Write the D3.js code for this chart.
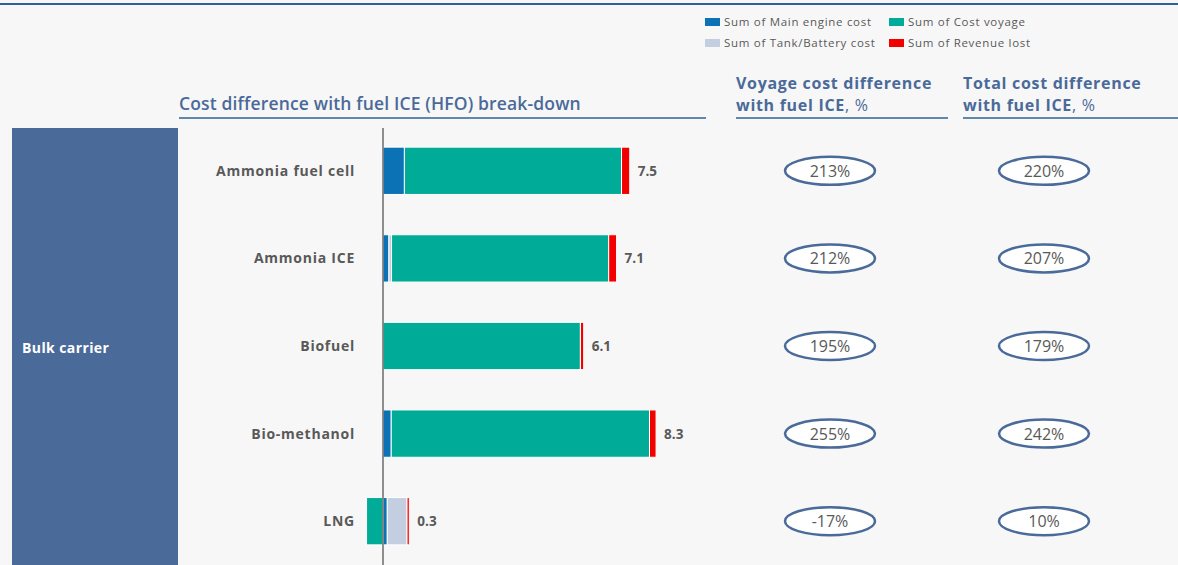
<!DOCTYPE html>
<html><head><meta charset="utf-8">
<script src="https://cdn.jsdelivr.net/npm/d3@7"></script>
<style>
html,body{margin:0;padding:0;background:#f7f7f7;}
svg{display:block;}
text{font-family:"Open Sans","Lato",sans-serif;}
</style></head>
<body>
<svg id="c" width="1178" height="565"></svg>
<script>
const categories = ["Ammonia fuel cell","Ammonia ICE","Biofuel","Bio-methanol","LNG"];
const mainEngine = [0.65, 0.18, 0, 0.25, 0.13];
const tankBattery = [0, 0.08, 0, 0, 0.6];
const costVoyage = [6.6, 6.6, 6.0, 7.85, -0.5];
const revenueLost = [0.25, 0.24, 0.1, 0.2, 0.07];
const totals = ["7.5","7.1","6.1","8.3","0.3"];
const voyagePct = ["213%","212%","195%","255%","-17%"];
const totalPct = ["220%","207%","179%","242%","10%"];
const seriesNames = ["Sum of Main engine cost","Sum of Tank/Battery cost","Sum of Cost voyage","Sum of Revenue lost"];
const seriesColors = ["#0a72b5","#c3cfe0","#00ac97","#f20000"];
const groupLabel = "Bulk carrier";

const svg = d3.select("#c");
const W = 1178, H = 565;
svg.append("rect").attr("width",W).attr("height",H).attr("fill","#f7f7f7");
svg.append("line").attr("x1",0).attr("x2",W).attr("y1",4).attr("y2",4).attr("stroke","#2f6294").attr("stroke-width",2);

const x = d3.scaleLinear().domain([0,10]).range([383, 712]);
const y = d3.scaleBand().domain(categories).range([127,565]).paddingInner(0.46).paddingOuter(0.23);

// group box
svg.append("rect").attr("x",12).attr("y",128).attr("width",166).attr("height",H-128).attr("fill","#4a6a99");
svg.append("text").attr("x",22).attr("y",353).attr("fill","#fff").attr("font-size",14).attr("letter-spacing",0.4).attr("font-weight",700).text(groupLabel);

// headers
const hdrColor = "#4a6a99", lineColor = "#2f6294";
svg.append("text").attr("x",179).attr("y",110).attr("fill",hdrColor).attr("font-size",17.5).attr("font-weight",600).attr("letter-spacing",0.15).text("Cost difference with fuel ICE (HFO) break-down");
svg.append("line").attr("x1",179).attr("x2",706).attr("y1",118).attr("y2",118).attr("stroke",lineColor).attr("stroke-width",1.5);
const hdrs = [{x:736,x2:948,l1:"Voyage cost difference"},{x:963,x2:1178,l1:"Total cost difference"}];
hdrs.forEach(h=>{
  svg.append("text").attr("x",h.x).attr("y",89).attr("fill",hdrColor).attr("font-size",16).attr("letter-spacing",0.7).attr("font-weight",700).text(h.l1);
  const t = svg.append("text").attr("x",h.x).attr("y",111).attr("fill",hdrColor).attr("font-size",16).attr("letter-spacing",0.7).attr("font-weight",700);
  t.append("tspan").text("with fuel ICE");
  t.append("tspan").attr("font-weight",400).text(", %");
  svg.append("line").attr("x1",h.x).attr("x2",h.x2).attr("y1",118).attr("y2",118).attr("stroke",lineColor).attr("stroke-width",1.5);
});

// legend
const leg = [{i:0,x:705,y:22},{i:2,x:889,y:22},{i:1,x:705,y:43},{i:3,x:889,y:43}];
leg.forEach(l=>{
  svg.append("rect").attr("x",l.x).attr("y",l.y-4).attr("width",15).attr("height",8).attr("fill",seriesColors[l.i]);
  svg.append("text").attr("x",l.x+19).attr("y",l.y+4).attr("font-size",11.5).attr("letter-spacing",0.7).attr("fill","#595959").text(seriesNames[l.i]);
});

// stacked bars
const seriesData = [mainEngine, tankBattery, costVoyage, revenueLost];
categories.forEach((c,ci)=>{
  let pos = 0, neg = 0;
  seriesData.forEach((arr,si)=>{
    const v = arr[ci];
    if (!v) return;
    let a,b;
    if (v>0){a=pos;b=pos+v;pos=b;} else {b=neg;a=neg+v;neg=a;}
    svg.append("rect").attr("x",x(a)).attr("width",x(b)-x(a)).attr("y",y(c)).attr("height",y.bandwidth())
      .attr("fill",seriesColors[si]).attr("stroke","#ffffff").attr("stroke-width",1);
  });
  const cy = y(c)+y.bandwidth()/2;
  svg.append("text").attr("x",x(pos)+8).attr("y",cy+5).attr("font-size",13.5).attr("font-weight",700).attr("fill","#595959").text(totals[ci]);
  svg.append("text").attr("x",355).attr("y",cy+5).attr("text-anchor","end").attr("font-size",14).attr("letter-spacing",0.75).attr("font-weight",700).attr("fill","#595959").text(c);
  // ovals
  [[830,voyagePct],[1044,totalPct]].forEach(([cx,arr])=>{
    svg.append("ellipse").attr("cx",cx).attr("cy",cy).attr("rx",45).attr("ry",14)
      .attr("fill","#ffffff").attr("stroke","#4a6a99").attr("stroke-width",2.5);
    svg.append("text").attr("x",cx).attr("y",cy+6).attr("text-anchor","middle").attr("font-size",16).attr("fill","#595959").text(arr[ci]);
  });
});

// axis line
svg.append("line").attr("x1",x(0)).attr("x2",x(0)).attr("y1",128).attr("y2",H).attr("stroke","#6b6b6b").attr("stroke-width",1.5);
</script>
</body></html>
